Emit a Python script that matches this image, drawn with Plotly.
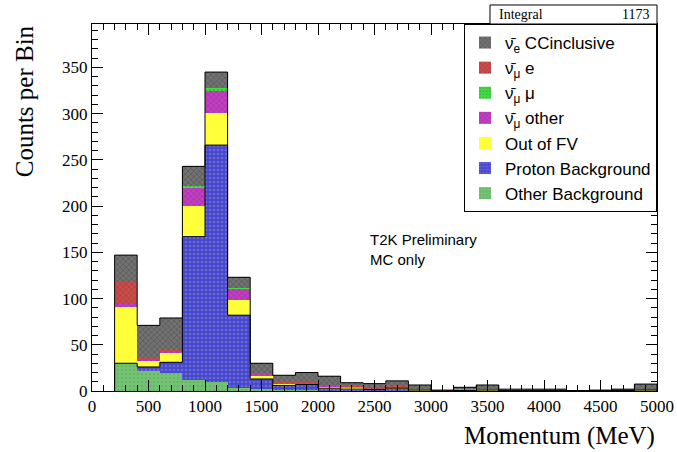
import plotly.graph_objects as go

# ---------------- data ----------------
momentum_centers = [300, 500, 700, 900, 1100, 1300, 1500, 1700, 1900, 2100, 2300, 2500,
                    2700, 2900, 3100, 3300, 3500, 3700, 3900, 4100, 4300, 4500, 4700, 4900]
bin_width = 200

other_bkg = [30, 22, 19, 12, 10, 3, 2, 1, 1, 1, 1, 0.5, 1, 1, 0, 0.5, 1, 0.5, 0.5, 0.5, 0, 0.5, 0.5, 1]
proton_bkg = [0, 4, 12, 155, 256, 79, 11, 5, 6, 2, 1, 1, 2, 0, 0, 0, 0, 0, 0, 0, 0, 0, 0, 0]
out_of_fv = [61, 7, 11, 33, 35, 16, 4, 2, 1, 2, 2, 0.5, 1, 0.5, 0, 0.5, 0.5, 1, 1, 1, 0, 0, 0.5, 0.5]
numubar_other = [3, 1, 1, 20, 24, 13, 2, 1.5, 1, 0.5, 0, 1, 0.5, 0.5, 0.5, 0, 0.5, 0, 0, 0, 0, 0, 0, 0.5]
numubar_mu = [0, 0, 0, 2, 3, 1, 0, 0, 0, 0, 0.5, 0, 0, 0.5, 0, 1.5, 0.5, 0.5, 0.5, 0.5, 0, 0, 0, 0]
numubar_e = [25.5, 3, 1, 1, 1, 1, 1, 0.5, 1, 0.5, 1.5, 0.5, 0.5, 0, 0.5, 0, 0, 0, 0, 0, 0, 0, 0, 0]
nuebar_cc = [27.5, 34, 35, 20, 16, 10, 10, 7, 10, 10, 3, 4.5, 6, 4, 0, 1.5, 4, 0, 0, 0, 0.5, 0.5, 1, 5.5]

integral_text = "1173"
y_ticks = [0, 50, 100, 150, 200, 250, 300, 350]
x_ticks = [0, 500, 1000, 1500, 2000, 2500, 3000, 3500, 4000, 4500, 5000]

# stack order: bottom -> top
series = [
    ("Other Background", other_bkg, "#74c274", "#5aa85a", "."),
    ("Proton Background", proton_bkg, "#4646d6", "#9090a8", "."),
    ("Out of FV", out_of_fv, "#ffff3a", "#ffff3a", ""),
    ("ν\u0304<sub>μ</sub> other", numubar_other, "#c23ec2", "#8a2a8a", "x"),
    ("ν\u0304<sub>μ</sub> μ", numubar_mu, "#46dc46", "#2a9a2a", "."),
    ("ν\u0304<sub>μ</sub> e", numubar_e, "#cc4c4c", "#8a3030", "x"),
    ("ν\u0304<sub>e</sub> CCinclusive", nuebar_cc, "#727272", "#404040", "x"),
]

fig = go.Figure()
for name, vals, col, fg, shape in series:
    fig.add_trace(go.Bar(
        x=momentum_centers, y=vals, width=bin_width, name=name,
        marker=dict(color=col, line=dict(width=0),
                    pattern=dict(shape=shape, fgcolor=fg, size=4, solidity=0.35)),
    ))

# step outlines (ROOT-style histogram outlines)
def outline(vals):
    xs = [momentum_centers[0] - bin_width / 2]
    ys = [0]
    for c, v in zip(momentum_centers, vals):
        xs.append(c - bin_width / 2)
        ys.append(v)
    xs += [momentum_centers[-1] + bin_width / 2, momentum_centers[-1] + bin_width / 2]
    ys += [vals[-1], 0]
    return xs, ys

cum = [0] * len(momentum_centers)
for i, (name, vals, col, fg, shape) in enumerate(series):
    cum = [a + b for a, b in zip(cum, vals)]
    if name in ("Proton Background", "ν\u0304<sub>e</sub> CCinclusive"):
        xs, ys = outline(cum)
        fig.add_trace(go.Scatter(x=xs, y=ys, mode="lines", line=dict(color="black", width=1, shape="hv"),
                                 showlegend=False, hoverinfo="skip"))

serif = "Liberation Serif, Times New Roman, serif"
sans = "Liberation Sans, Arial, sans-serif"

fig.update_layout(
    width=677, height=452,
    margin=dict(l=92, r=20, t=24, b=61),
    paper_bgcolor="white", plot_bgcolor="white",
    barmode="stack", bargap=0,
    showlegend=True,
    legend=dict(x=1, y=1, xanchor="right", yanchor="top", traceorder="reversed",
                bordercolor="black", borderwidth=1, bgcolor="white",
                font=dict(family=sans, size=17, color="black"), tracegroupgap=0,
                itemwidth=30),
    xaxis=dict(range=[0, 5000], tickvals=x_ticks, ticks="inside", ticklen=11, tickcolor="black",
               showline=True, linecolor="black", linewidth=1, mirror="ticks", showgrid=False,
               zeroline=False, automargin=False, tickfont=dict(family=serif, size=17, color="black"),
               minor=dict(dtick=100, ticks="inside", ticklen=6, tickcolor="black", showgrid=False)),
    yaxis=dict(range=[0, 397], tickvals=y_ticks, ticks="inside", ticklen=11, tickcolor="black",
               showline=True, linecolor="black", linewidth=1, mirror="ticks", showgrid=False,
               zeroline=False, automargin=False, tickfont=dict(family=serif, size=17, color="black"),
               minor=dict(dtick=10, ticks="inside", ticklen=6, tickcolor="black", showgrid=False)),
)

# axis titles
fig.add_annotation(text="Counts per Bin", xref="paper", yref="paper", x=-0.12, y=0.79,
                   textangle=-90, showarrow=False, xanchor="center", yanchor="middle",
                   font=dict(family=serif, size=25, color="black"))
fig.add_annotation(text="Momentum (MeV)", xref="paper", yref="paper", x=1.0, y=-0.123,
                   showarrow=False, xanchor="right", yanchor="middle",
                   font=dict(family=serif, size=25, color="black"))

# integral box
fig.add_shape(type="rect", xref="paper", yref="paper", x0=0.7044, x1=1.0, y0=1.0, y1=1.0518,
              line=dict(color="black", width=1), fillcolor="white")
fig.add_annotation(text="Integral", xref="paper", yref="paper", x=0.717, y=1.026, showarrow=False,
                   xanchor="left", yanchor="middle", font=dict(family=serif, size=14, color="black"))
fig.add_annotation(text=integral_text, xref="paper", yref="paper", x=0.99, y=1.026, showarrow=False,
                   xanchor="right", yanchor="middle", font=dict(family=serif, size=14, color="black"))

# T2K text
fig.add_annotation(text="T2K Preliminary<br>MC only", xref="x", yref="y", x=2440, y=153,
                   showarrow=False, xanchor="left", yanchor="middle", align="left",
                   font=dict(family=sans, size=15, color="black"))

fig.write_html("out.html", config={"displayModeBar": False})

# remove default page margin so the figure sits at the window's top-left corner
with open("out.html", "r", encoding="utf-8") as f:
    html = f.read()
html = html.replace("<head>", "<head><style>html,body{margin:0;padding:0;overflow:hidden;}</style>", 1)
with open("out.html", "w", encoding="utf-8") as f:
    f.write(html)
